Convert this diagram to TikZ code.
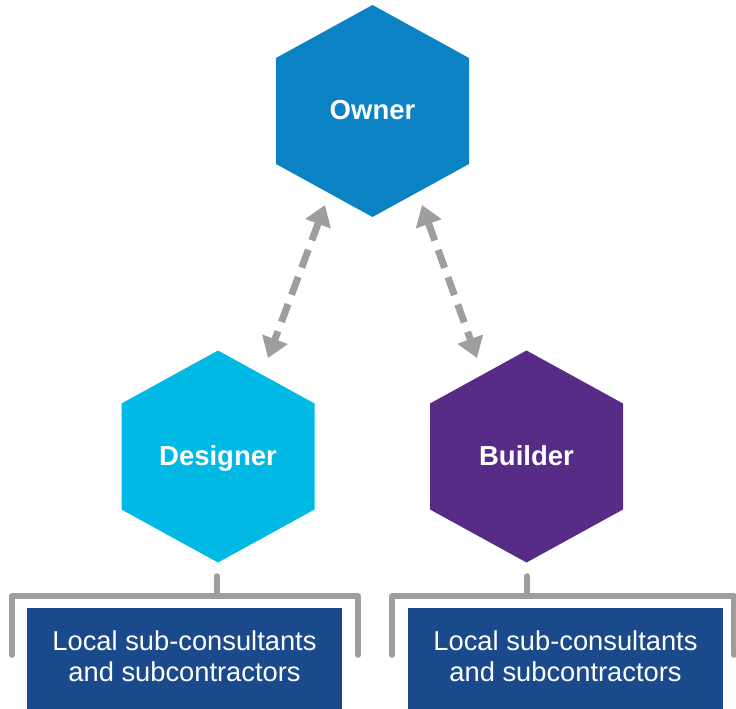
\documentclass[tikz,border=0pt]{standalone}
\usepackage{fontspec}
\setmainfont{Liberation Sans}
\usetikzlibrary{arrows.meta}
\definecolor{ownerblue}{HTML}{0A82C4}
\definecolor{designcyan}{HTML}{00B9E4}
\definecolor{buildpurple}{HTML}{572C87}
\definecolor{boxblue}{HTML}{1A4A8B}
\definecolor{linegray}{HTML}{9E9E9E}
\tikzset{
  hexlabel/.style={text=white, font=\fontsize{27.5}{32}\selectfont\bfseries, inner sep=0pt, anchor=base},
  subbox/.style={fill=boxblue, minimum width=315pt, minimum height=101pt, inner sep=0pt},
  subtext/.style={text=white, inner sep=0pt, align=center, font=\fontsize{27.3}{31}\selectfont},
  relarrow/.style={draw=linegray, line width=7pt, dash pattern=on 19pt off 10pt, {Triangle[width=26pt,length=20pt]}-{Triangle[width=26pt,length=20pt]}},
  bracket/.style={draw=linegray, line width=5.5pt, line cap=round, line join=round},
}
\newcommand{\hexshape}[2]{%
  \fill[#2] (#1) ++(0,-106) -- ++(96.5,53) -- ++(0,106) -- ++(-96.5,53) -- ++(-96.5,-53) -- ++(0,-106) -- cycle;}
\begin{document}
\begin{tikzpicture}[x=1pt,y=-1pt]
\useasboundingbox (0,0) rectangle (736,709);
% hexagon centres
\coordinate (ownerc) at (372.5,111);
\coordinate (designerc) at (218,456.5);
\coordinate (builderc) at (526.5,456.5);
\hexshape{ownerc}{ownerblue}
\hexshape{designerc}{designcyan}
\hexshape{builderc}{buildpurple}
\node[hexlabel] (owner) at (372.5,119) {Owner};
\node[hexlabel] (designer) at (218,465) {Designer};
\node[hexlabel] (builder) at (526.5,465) {Builder};
% arrows
\coordinate (a1) at (325,205);
\coordinate (a2) at (268,358);
\coordinate (b1) at (422,205);
\coordinate (b2) at (477,358);
\path[relarrow] (a1) -- (a2);
\path[relarrow] (b1) -- (b2);
% boxes
\node[subbox] (dsub) at (184.5,658.5) {};
\node[subbox] (bsub) at (565.5,658.5) {};
\node[subtext] (dsubtext) at (184.5,656) {Local sub-consultants\\and subcontractors};
\node[subtext] (bsubtext) at (565.5,656) {Local sub-consultants\\and subcontractors};
% brackets
\coordinate (dstub) at (217,576);
\coordinate (dmid) at (217,596);
\coordinate (dl) at (12,596);
\coordinate (dr) at (358,596);
\draw[bracket] (dstub) -- (dmid);
\draw[bracket] (12,655) -- (dl) -- (dr) -- (358,655);
\coordinate (bstub) at (527,576);
\coordinate (bmid) at (527,596);
\coordinate (bl) at (392,596);
\coordinate (br) at (734,596);
\draw[bracket] (bstub) -- (bmid);
\draw[bracket] (392,655) -- (bl) -- (br) -- (734,655);
\end{tikzpicture}
\end{document}
